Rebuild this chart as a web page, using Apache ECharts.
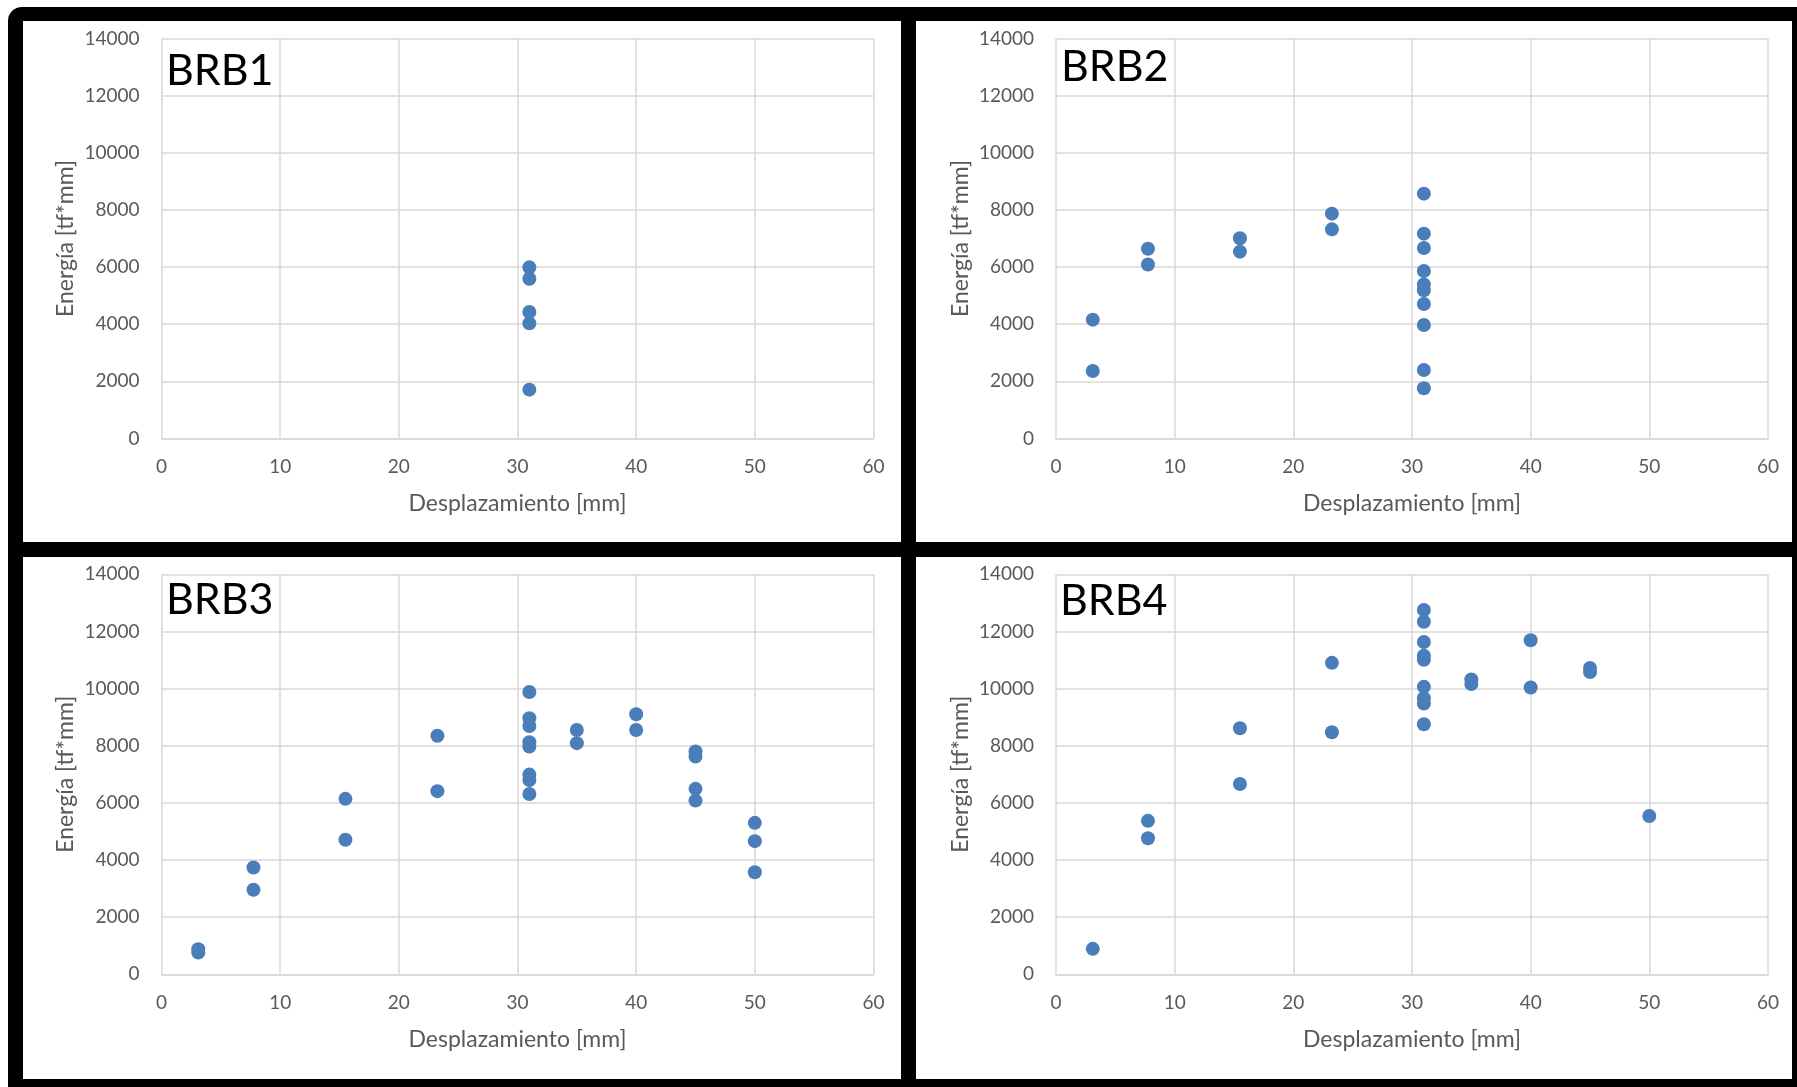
<!DOCTYPE html>
<html>
<head>
<meta charset="utf-8">
<title>Energía vs Desplazamiento – BRB1..BRB4</title>
<script src="https://cdn.jsdelivr.net/npm/echarts/dist/echarts.min.js"></script>
<style>
  html, body { margin: 0; padding: 0; background: #ffffff; }
  #chart { width: 1797px; height: 1087px; }
</style>
</head>
<body>
<div id="chart"></div>
<script>
// Axis ranges and tick steps shared by the four panels
const xTicks = { min: 0, max: 60, interval: 10 };
const yTicks = { min: 0, max: 14000, interval: 2000 };
const panelNames = ['BRB1', 'BRB2', 'BRB3', 'BRB4'];

// Displacement [mm] and dissipated energy [tf*mm] for each specimen
const brb1Desp = [31, 31, 31, 31, 31];
const brb1Energia = [5990, 5590, 4430, 4030, 1710];

const brb2Desp = [3.1, 3.1, 7.75, 7.75, 15.5, 15.5, 23.25, 23.25,
                  31, 31, 31, 31, 31, 31, 31, 31, 31, 31];
const brb2Energia = [4160, 2360, 6640, 6090, 7010, 6540, 7870, 7320,
                     8570, 7170, 6670, 5860, 5390, 5190, 4710, 3970, 2400, 1760];

const brb3Desp = [3.1, 3.1, 7.75, 7.75, 15.5, 15.5, 23.25, 23.25,
                  31, 31, 31, 31, 31, 31, 31, 31,
                  35, 35, 40, 40, 45, 45, 45, 45, 50, 50, 50];
const brb3Energia = [880, 760, 3740, 2960, 6140, 4710, 8350, 6410,
                     9880, 8960, 8690, 8120, 7970, 6990, 6800, 6310,
                     8550, 8090, 9100, 8550, 7800, 7620, 6490, 6080, 5300, 4660, 3570];

const brb4Desp = [3.1, 7.75, 7.75, 15.5, 15.5, 23.25, 23.25,
                  31, 31, 31, 31, 31, 31, 31, 31, 31,
                  35, 35, 40, 40, 45, 45, 50];
const brb4Energia = [890, 5370, 4760, 8610, 6660, 10900, 8470,
                     12750, 12340, 11630, 11150, 11010, 10060, 9660, 9480, 8750,
                     10320, 10160, 11690, 10040, 10720, 10580, 5540];

const panelDesp = [brb1Desp, brb2Desp, brb3Desp, brb4Desp];
const panelEnergia = [brb1Energia, brb2Energia, brb3Energia, brb4Energia];

// Layout of the 2x2 arrangement (pixels)
const grids = [
  { left: 161.5, top: 38.5, width: 712, height: 400 },
  { left: 1056, top: 38.5, width: 712, height: 400 },
  { left: 161.5, top: 574.3, width: 712, height: 400 },
  { left: 1056, top: 574.3, width: 712, height: 400 }
];
const labelPos = [
  { left: 166, top: 50 },
  { left: 1061, top: 46 },
  { left: 166, top: 579 },
  { left: 1060, top: 580 }
];

const FONT = 'Lato';
const TEXT_GREY = '#595959';
const GRID_GREY = '#d9d9d9';
const DOT_BLUE = '#4a7ebb';

const xAxes = grids.map((g, i) => ({
  type: 'value',
  gridIndex: i,
  min: xTicks.min, max: xTicks.max, interval: xTicks.interval,
  name: 'Desplazamiento [mm]',
  nameLocation: 'middle',
  nameGap: 54,
  nameTextStyle: { color: TEXT_GREY, fontFamily: FONT, fontSize: 23 },
  axisLine: { show: true, lineStyle: { color: GRID_GREY, width: 1.5 } },
  axisTick: { show: false },
  axisLabel: { color: TEXT_GREY, fontFamily: FONT, fontSize: 19, margin: 19,
               formatter: v => String(v) },
  splitLine: { show: true, lineStyle: { color: GRID_GREY, width: 1.5 } }
}));

const yAxes = grids.map((g, i) => ({
  type: 'value',
  gridIndex: i,
  min: yTicks.min, max: yTicks.max, interval: yTicks.interval,
  name: 'Energía [tf*mm]',
  nameLocation: 'middle',
  nameGap: 84,
  nameTextStyle: { color: TEXT_GREY, fontFamily: FONT, fontSize: 23 },
  axisLine: { show: false },
  axisTick: { show: false },
  axisLabel: { color: TEXT_GREY, fontFamily: FONT, fontSize: 19, margin: 22,
               formatter: v => String(v) },
  splitLine: { show: true, lineStyle: { color: GRID_GREY, width: 1.5 } }
}));

const series = panelNames.map((name, i) => ({
  name: name,
  type: 'scatter',
  xAxisIndex: i,
  yAxisIndex: i,
  symbol: 'circle',
  symbolSize: 14,
  itemStyle: { color: DOT_BLUE, opacity: 1 },
  data: panelDesp[i].map((d, k) => [d, panelEnergia[i][k]])
}));

const titles = panelNames.map((name, i) => ({
  text: name,
  left: labelPos[i].left,
  top: labelPos[i].top,
  padding: 0,
  textStyle: { color: '#000000', fontFamily: FONT, fontSize: 43, fontWeight: 'normal' }
}));

// Black frame around and between the four panels
const panelRects = [
  { x: 23, y: 21, width: 878, height: 521 },
  { x: 916, y: 21, width: 876, height: 521 },
  { x: 23, y: 557, width: 878, height: 522 },
  { x: 916, y: 557, width: 876, height: 522 }
];
const graphic = [
  { type: 'rect', z: -10, shape: { x: 8, y: 7, width: 1789, height: 1080, r: [14, 0, 0, 0] },
    style: { fill: '#000000' } }
].concat(panelRects.map(r => ({
  type: 'rect', z: -9, shape: r, style: { fill: '#ffffff' }
})));

const chart = echarts.init(document.getElementById('chart'));
chart.setOption({
  animation: false,
  backgroundColor: '#ffffff',
  title: titles,
  graphic: graphic,
  grid: grids,
  xAxis: xAxes,
  yAxis: yAxes,
  series: series
});
</script>
</body>
</html>
